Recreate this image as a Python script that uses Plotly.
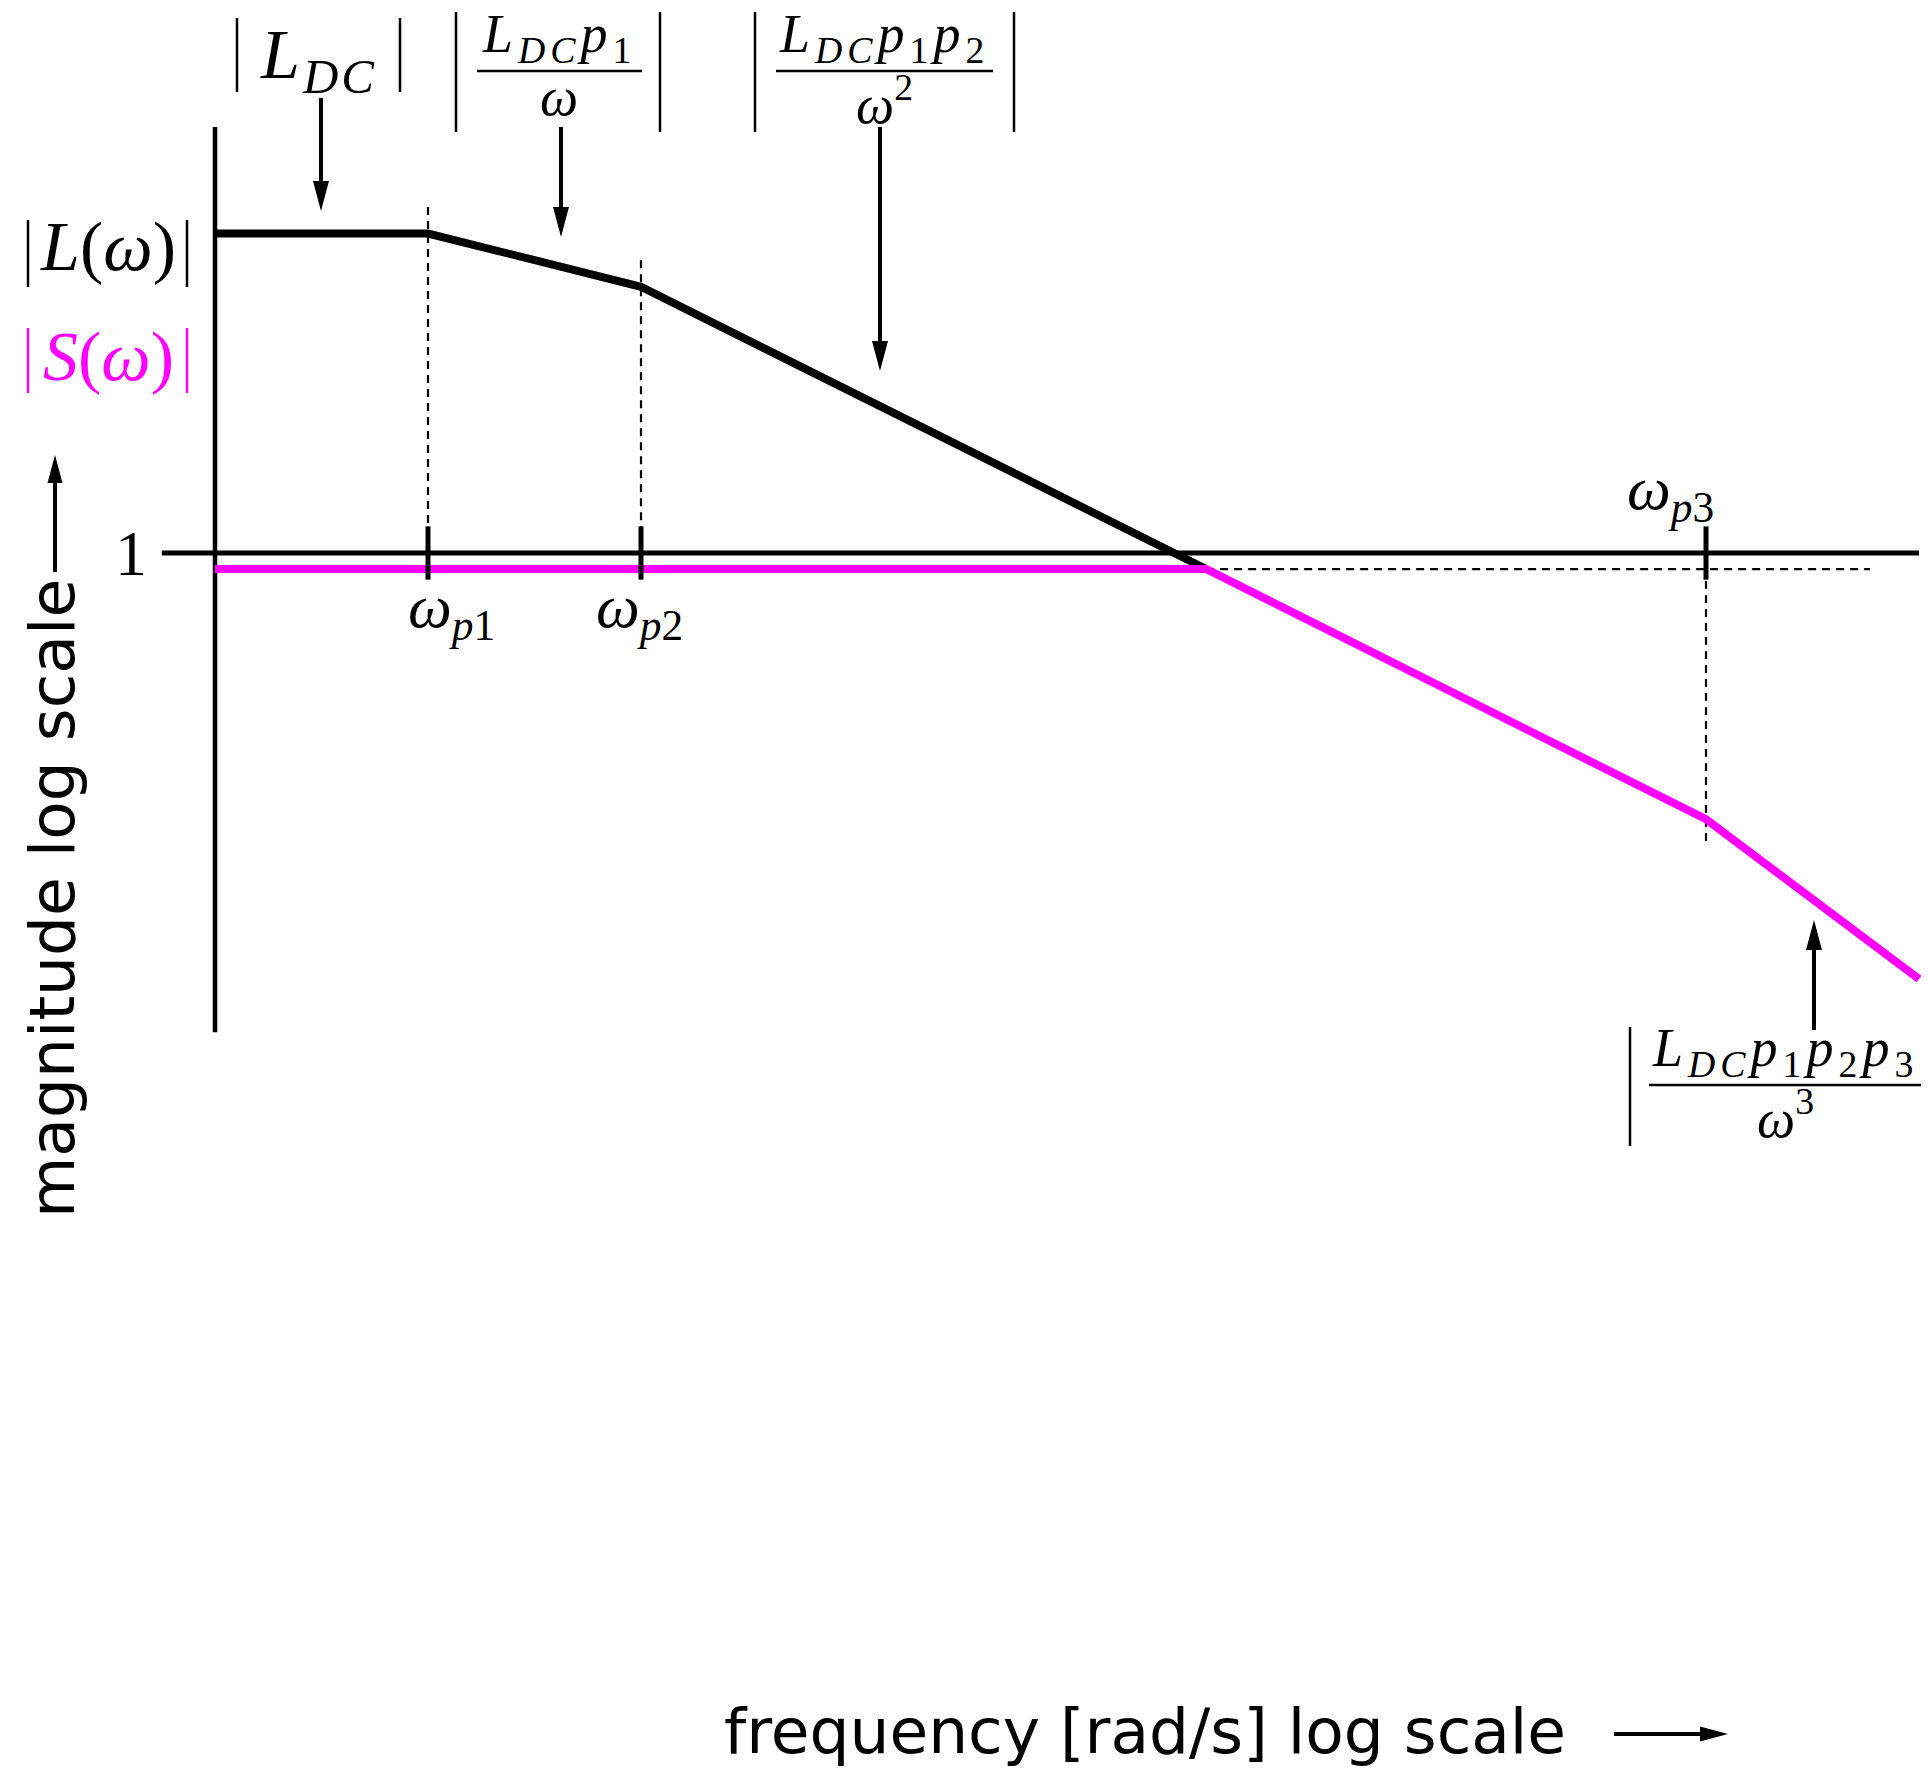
import plotly.graph_objects as go

W, H = 1928, 1769

# Asymptotic magnitude of the loop gain |L(w)| (break points at the poles)
omega_L = [1, 10, 100, 4.5e4]
mag_L = [1e6, 1e6, 1e5, 0.5]

# Asymptotic magnitude of |S(w)|
omega_S = [1, 4.5e4, 1e7, 1e8]
mag_S = [0.5, 0.5, 1e-5, 1e-8]

# Pole frequencies marked on the unity line
pole_freqs = [10, 100, 1e7]

BLACK = "#000000"
MAGENTA = "#ff00ff"
SERIF = "Liberation Serif"
SANS = "DejaVu Sans"

# pixel scale of the log-log frame
PX_PER_DEC_X = 213.0
PX_PER_DEC_Y = 53.25
ORIGIN_X = 215.0   # pixel column of w = 1
ORIGIN_Y = 553.0   # pixel row of |.| = 1


def X(px):
    return px / W


def Y(py):
    return 1 - py / H


fig = go.Figure()


def seg(xs, ys, color=BLACK, width=5, dash=None):
    fig.add_trace(go.Scatter(
        x=xs, y=ys, mode="lines", hoverinfo="skip", showlegend=False,
        line=dict(color=color, width=width, dash=dash),
    ))


DASH = "8px,6px"

# axes drawn as lines in data space
seg([1, 1], [1e-9, 1e8], width=4.5)
seg([10 ** -0.25, 1e8], [1, 1], width=5)

# dashed guides at the break points
seg([pole_freqs[0]] * 2, [mag_L[1] * 10 ** 0.5, 1], width=2.2, dash=DASH)
seg([pole_freqs[1]] * 2, [mag_L[2] * 10 ** 0.5, 1], width=2.2, dash=DASH)
seg([pole_freqs[2]] * 2, [1, mag_S[2] / 10 ** 0.5], width=2.2, dash=DASH)
seg([omega_S[1], 10 ** 7.77], [mag_S[1]] * 2, width=2.2, dash=DASH)

# asymptotes
seg(omega_L, mag_L, color=BLACK, width=8)
seg(omega_S, mag_S, color=MAGENTA, width=8)

# pole ticks
for p in pole_freqs:
    seg([p, p], [10 ** -0.5, 10 ** 0.5], width=5)

annotations = []
shapes = []


def text(px, py, s, size, color=BLACK, family=SERIF, angle=0, spacing=0):
    if spacing:
        s = "<span style='letter-spacing:{}px'>{}</span>".format(spacing, s)
    annotations.append(dict(
        x=X(px), y=Y(py), xref="paper", yref="paper", text=s, showarrow=False,
        xanchor="center", yanchor="middle", textangle=angle,
        font=dict(family=family, size=size, color=color),
    ))


def line(x0, y0, x1, y1, width=2.5, color=BLACK):
    shapes.append(dict(
        type="line", xref="paper", yref="paper",
        x0=X(x0), y0=Y(y0), x1=X(x1), y1=Y(y1),
        line=dict(color=color, width=width),
    ))


def bars(x_left, x_right, y0, y1, color=BLACK, width=2.5):
    for xb in (x_left, x_right):
        if xb is not None:
            line(xb, y0, xb, y1, width=width, color=color)


def arrow(x, y_tail, y_head, width=4, head_len=30, head_w=16):
    d = 1 if y_head > y_tail else -1
    base = y_head - d * head_len
    line(x, y_tail, x, base + d * 2, width=width)
    path = "M {:.5f} {:.5f} L {:.5f} {:.5f} L {:.5f} {:.5f} Z".format(
        X(x - head_w / 2), Y(base), X(x + head_w / 2), Y(base), X(x), Y(y_head))
    shapes.append(dict(type="path", xref="paper", yref="paper", path=path,
                       fillcolor=BLACK, line=dict(color=BLACK, width=0)))


def harrow(y, x_tail, x_head, width=4, head_len=30, head_w=16):
    base = x_head - head_len
    line(x_tail, y, base + 2, y, width=width)
    path = "M {:.5f} {:.5f} L {:.5f} {:.5f} L {:.5f} {:.5f} Z".format(
        X(base), Y(y - head_w / 2), X(base), Y(y + head_w / 2), X(x_head), Y(y))
    shapes.append(dict(type="path", xref="paper", yref="paper", path=path,
                       fillcolor=BLACK, line=dict(color=BLACK, width=0)))


L_DC = "<i>L</i><sub><i>DC</i></sub>"

# curve names on the left
bars(28, 187, 220, 287)
text(108, 246, "<i>L</i>(<i>ω</i>)", 70)
bars(28, 187, 328, 393, color=MAGENTA)
text(108, 356, "<i>S</i>(<i>ω</i>)", 70, color=MAGENTA)
text(131, 553, "1", 64)

# pole labels
text(451, 610, "<i>ω</i><sub><i>p</i>1</sub>", 62)
text(639, 610, "<i>ω</i><sub><i>p</i>2</sub>", 62)
text(1670, 492, "<i>ω</i><sub><i>p</i>3</sub>", 62)

# |L_DC|
bars(237, 400, 18, 92)
text(318, 60, L_DC, 70, spacing=3)
arrow(321, 98, 211)

# |L_DC p1 / w|
bars(456, 660, 12, 132)
text(559, 37, L_DC + "<i>p</i><sub>1</sub>", 54, spacing=5)
line(477, 71, 642, 71)
text(559, 97, "<i>ω</i>", 54)
arrow(561, 127, 237)

# |L_DC p1 p2 / w^2|
bars(755, 1014, 12, 132)
text(884, 37, L_DC + "<i>p</i><sub>1</sub><i>p</i><sub>2</sub>", 54, spacing=5)
line(776, 71, 993, 71)
text(884, 100, "<i>ω</i><sup>2</sup>", 54)
arrow(880, 127, 371)

# |L_DC p1 p2 p3 / w^3|
bars(1630, None, 1027, 1146)
text(1785, 1051, L_DC + "<i>p</i><sub>1</sub><i>p</i><sub>2</sub><i>p</i><sub>3</sub>", 54, spacing=5)
line(1649, 1085, 1921, 1085)
text(1785, 1114, "<i>ω</i><sup>3</sup>", 54)
arrow(1814, 1030, 920)

# axis titles
text(52, 899, "magnitude log scale", 63, family=SANS, angle=-90)
arrow(55, 572, 455, width=4, head_len=28, head_w=15)
text(1145, 1731, "frequency [rad/s] log scale", 63, family=SANS)
harrow(1734, 1614, 1728, width=4, head_len=28, head_w=15)

fig.update_layout(
    width=W, height=H,
    margin=dict(l=0, r=0, t=0, b=0),
    paper_bgcolor="white", plot_bgcolor="white",
    xaxis=dict(type="log", visible=False, domain=[0, 1],
               range=[-ORIGIN_X / PX_PER_DEC_X, (W - ORIGIN_X) / PX_PER_DEC_X]),
    yaxis=dict(type="log", visible=False, domain=[0, 1],
               range=[-(H - ORIGIN_Y) / PX_PER_DEC_Y, ORIGIN_Y / PX_PER_DEC_Y]),
    annotations=annotations,
    shapes=shapes,
    showlegend=False,
)

fig.write_html("out.html")
